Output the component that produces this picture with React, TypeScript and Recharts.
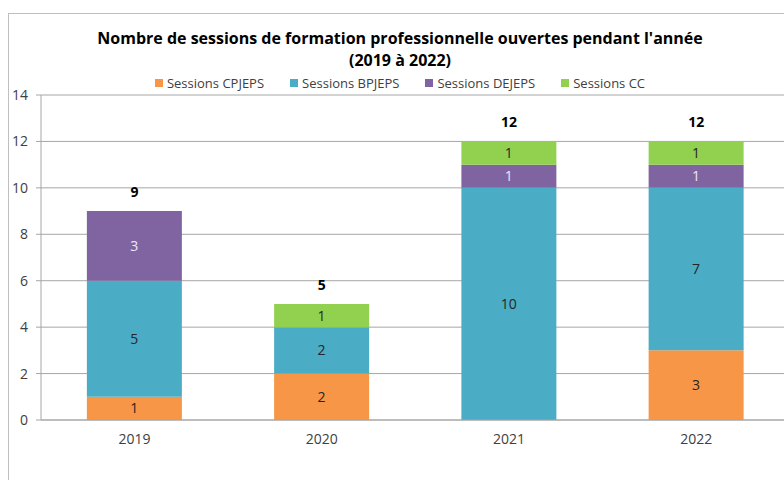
import { ComposedChart, Bar, Line, XAxis, YAxis, CartesianGrid, Legend, LabelList } from 'recharts';

const categories = ['2019', '2020', '2021', '2022'];
const cpjeps = [1, 2, 0, 3];
const bpjeps = [5, 2, 10, 7];
const dejeps = [3, 0, 1, 1];
const cc = [0, 1, 1, 1];
const yTicks = [0, 2, 4, 6, 8, 10, 12, 14];

const SERIES = [
  { key: 'cpjeps', name: 'Sessions CPJEPS', color: '#F79646', text: '#262626' },
  { key: 'bpjeps', name: 'Sessions BPJEPS', color: '#4BACC6', text: '#262626' },
  { key: 'dejeps', name: 'Sessions DEJEPS', color: '#8064A2', text: '#EDE6F5' },
  { key: 'cc', name: 'Sessions CC', color: '#92D050', text: '#262626' },
];

const data = categories.map((c, i) => ({
  year: c,
  cpjeps: cpjeps[i],
  bpjeps: bpjeps[i],
  dejeps: dejeps[i],
  cc: cc[i],
  total: cpjeps[i] + bpjeps[i] + dejeps[i] + cc[i],
}));

const FONT = '"Open Sans", sans-serif';

function LegendBox() {
  return (
    <div style={{ height: 18, display: 'flex', justifyContent: 'center', gap: 26, fontSize: 13, color: '#404040', lineHeight: '18px' }}>
      {SERIES.map((s) => (
        <span key={s.key} style={{ display: 'flex', alignItems: 'center' }}>
          <span style={{ width: 8, height: 8, background: s.color, marginRight: 4, display: 'inline-block' }} />
          {s.name}
        </span>
      ))}
    </div>
  );
}

export default function App() {
  return (
    <div style={{ position: 'absolute', left: 0, top: 0, width: 784, height: 480, overflow: 'hidden', background: '#fff', fontFamily: FONT }}>
      <div style={{ position: 'absolute', left: 8, top: 13, width: 800, height: 480, borderLeft: '1px solid #bfbfbf', borderTop: '1px solid #bfbfbf' }} />
      <div style={{ position: 'absolute', left: 0, top: 27, width: 800, textAlign: 'center', fontWeight: 700, fontSize: 16, lineHeight: '22px', color: '#000' }}>
        Nombre de sessions de formation professionnelle ouvertes pendant l'année
        <br />
        (2019 à 2022)
      </div>
      <ComposedChart width={800} height={480} data={data} margin={{ top: 77, right: 10, bottom: 30, left: 8 }}
        barCategoryGap="24.5%" style={{ position: 'absolute', left: 0, top: 0, fontFamily: FONT }}>
        <CartesianGrid vertical={false} stroke="#a6a6a6" />
        <XAxis dataKey="year" height={30} stroke="#a6a6a6" tickLine={false}
          tick={{ fill: '#404040', fontSize: 14 }} tickMargin={8} />
        <YAxis width={33} domain={[0, 14]} ticks={yTicks} stroke="#a6a6a6" tickSize={5} tickMargin={8}
          tick={{ fill: '#404040', fontSize: 14 }} />
        <Legend verticalAlign="top" height={18} content={() => <LegendBox />}
          wrapperStyle={{ top: 74, left: 0, width: 800 }} />
        {SERIES.map((s) => (
          <Bar key={s.key} dataKey={s.key} name={s.name} stackId="a" fill={s.color} isAnimationActive={false}>
            <LabelList dataKey={s.key} position="center" fill={s.text} fontSize={14}
              formatter={(v: any) => (v ? v : '')} />
          </Bar>
        ))}
        <Line dataKey="total" stroke="none" dot={false} activeDot={false} legendType="none"
          isAnimationActive={false}>
          <LabelList dataKey="total" position="top" offset={14} fill="#000" fontSize={14} fontWeight={700} />
        </Line>
      </ComposedChart>
    </div>
  );
}
